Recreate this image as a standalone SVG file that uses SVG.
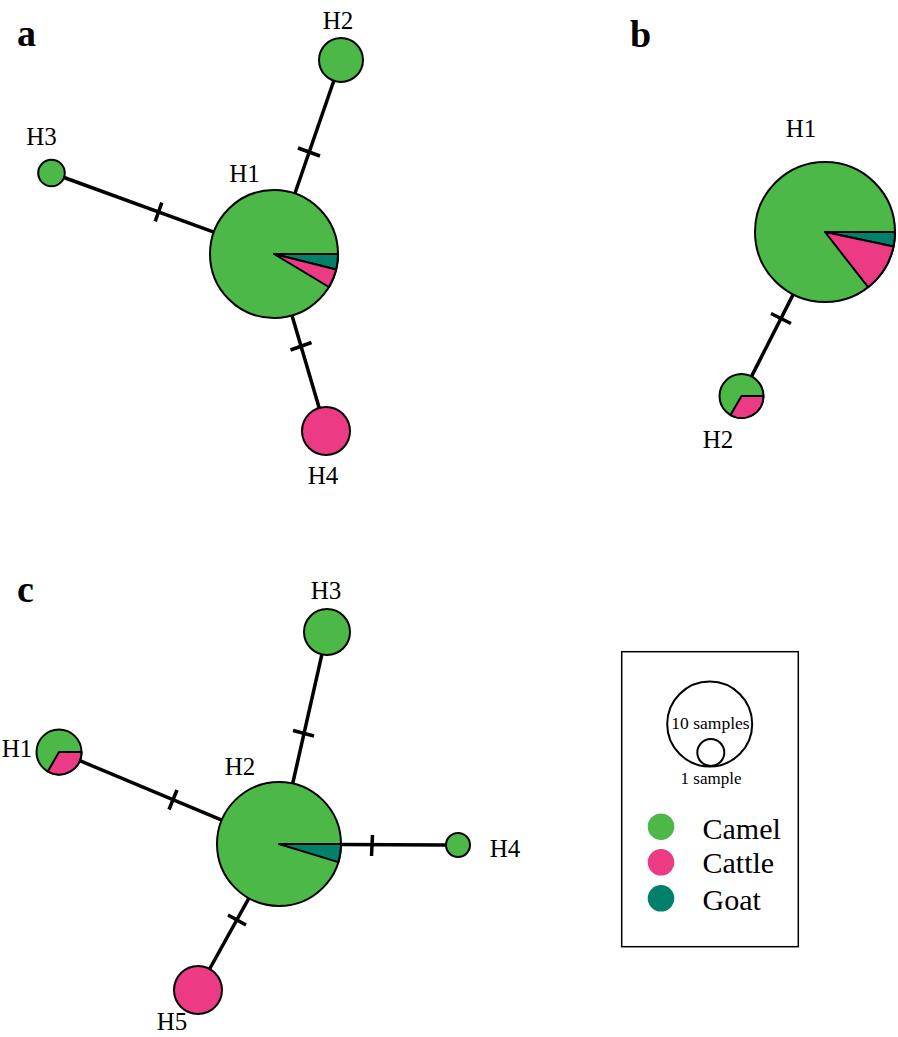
<svg xmlns="http://www.w3.org/2000/svg" width="898" height="1037" viewBox="0 0 898 1037">
<style>
.camel{fill:#4bb848}
.cattle{fill:#ec3a84}
.goat{fill:#02806a}
.node circle,.node path{stroke:#000;stroke-width:2;stroke-linejoin:round}
.edge{stroke:#000;stroke-width:3.5;stroke-linecap:butt;fill:none}
.lbl{font-family:"Liberation Serif","Times New Roman",serif;font-size:25px;fill:#000;text-anchor:middle}
.panel{font-family:"Liberation Serif","Times New Roman",serif;font-size:38px;font-weight:bold;fill:#000}
.leg{font-family:"Liberation Serif","Times New Roman",serif;fill:#000}
</style>
<rect width="898" height="1037" fill="#fff"/>

<!-- connectors -->
<g id="connectors">
  <!-- panel a -->
  <line class="edge" x1="294.9" y1="193.5" x2="333.8" y2="80.8"/>
  <line class="edge" x1="298" y1="148" x2="320" y2="156"/>
  <line class="edge" x1="213.9" y1="232.1" x2="64" y2="177.5"/>
  <line class="edge" x1="161.8" y1="202.6" x2="155.2" y2="221.4"/>
  <line class="edge" x1="292" y1="315.4" x2="319.2" y2="408"/>
  <line class="edge" x1="290.5" y1="350" x2="311.5" y2="342.5"/>
  <!-- panel b -->
  <line class="edge" x1="793.2" y1="294.4" x2="751.5" y2="376.4"/>
  <line class="edge" x1="771" y1="313.5" x2="791" y2="323.5"/>
  <!-- panel c -->
  <line class="edge" x1="292.7" y1="783.5" x2="321.9" y2="654.4"/>
  <line class="edge" x1="293" y1="730.5" x2="314" y2="736"/>
  <line class="edge" x1="221.8" y1="820.1" x2="79.8" y2="760.7"/>
  <line class="edge" x1="177" y1="790" x2="169" y2="809.5"/>
  <line class="edge" x1="341" y1="844.6" x2="446" y2="845"/>
  <line class="edge" x1="372.5" y1="835" x2="371.5" y2="856"/>
  <line class="edge" x1="248.9" y1="898.2" x2="209.6" y2="969"/>
  <line class="edge" x1="228" y1="915" x2="246" y2="925"/>
</g>

<!-- panel labels -->
<text class="panel" x="17" y="46">a</text>
<text class="panel" x="630" y="47">b</text>
<text class="panel" x="17" y="602">c</text>

<!-- panel a nodes -->
<g id="a-H1" class="node">
  <circle class="camel" cx="274" cy="254" r="64"/>
  <path class="goat" d="M274,254 L338,254 A64,64 0 0 1 336.1,269.5 Z"/>
  <path class="cattle" d="M274,254 L336.1,269.5 A64,64 0 0 1 328.9,287 Z"/>
  <text class="lbl" x="244.5" y="182">H1</text>
</g>
<g id="a-H2" class="node">
  <circle class="camel" cx="341" cy="60" r="22"/>
  <text class="lbl" x="338" y="29">H2</text>
</g>
<g id="a-H3" class="node">
  <circle class="camel" cx="51.5" cy="173" r="13.3"/>
  <text class="lbl" x="41.5" y="145">H3</text>
</g>
<g id="a-H4" class="node">
  <circle class="cattle" cx="326" cy="431" r="24"/>
  <text class="lbl" x="323" y="484">H4</text>
</g>

<!-- panel b nodes -->
<g id="b-H1" class="node">
  <circle class="camel" cx="825" cy="232" r="70"/>
  <path class="goat" d="M825,232 L895,232 A70,70 0 0 1 893.5,246.6 Z"/>
  <path class="cattle" d="M825,232 L893.5,246.6 A70,70 0 0 1 868.1,287.2 Z"/>
  <text class="lbl" x="801" y="137">H1</text>
</g>
<g id="b-H2" class="node">
  <circle class="camel" cx="741.5" cy="396" r="22"/>
  <path class="cattle" d="M741.5,396 L763.5,396 A22,22 0 0 1 730.5,415.05 Z"/>
  <text class="lbl" x="718" y="448">H2</text>
</g>

<!-- panel c nodes -->
<g id="c-H2" class="node">
  <circle class="camel" cx="279" cy="844" r="62"/>
  <path class="goat" d="M279,844 L341,844 A62,62 0 0 1 338.3,862.1 Z"/>
  <text class="lbl" x="240" y="775">H2</text>
</g>
<g id="c-H1" class="node">
  <circle class="camel" cx="59" cy="752" r="22.5"/>
  <path class="cattle" d="M59,752 L81.5,752 A22.5,22.5 0 0 1 47.75,771.5 Z"/>
  <text class="lbl" x="17" y="757">H1</text>
</g>
<g id="c-H3" class="node">
  <circle class="camel" cx="327" cy="632" r="23"/>
  <text class="lbl" x="326" y="599">H3</text>
</g>
<g id="c-H4" class="node">
  <circle class="camel" cx="458" cy="845" r="12"/>
  <text class="lbl" x="505" y="857">H4</text>
</g>
<g id="c-H5" class="node">
  <circle class="cattle" cx="198" cy="990" r="24"/>
  <text class="lbl" x="172" y="1030">H5</text>
</g>

<!-- legend -->
<g id="legend">
  <rect x="621.7" y="651.7" width="176.6" height="295" fill="#fff" stroke="#000" stroke-width="1.5"/>
  <circle cx="709.7" cy="724" r="42.5" fill="none" stroke="#000" stroke-width="2"/>
  <circle cx="710.8" cy="752.5" r="13.5" fill="none" stroke="#000" stroke-width="2"/>
  <text class="leg" x="710.5" y="729" font-size="17.5" text-anchor="middle">10 samples</text>
  <text class="leg" x="711" y="784" font-size="17" text-anchor="middle">1 sample</text>
  <circle class="camel" cx="661" cy="826.7" r="13.3"/>
  <circle class="cattle" cx="661" cy="862.3" r="13.3"/>
  <circle class="goat" cx="661" cy="898.3" r="13.3"/>
  <text class="leg" x="702.5" y="839.3" font-size="30">Camel</text>
  <text class="leg" x="702.5" y="873.3" font-size="30">Cattle</text>
  <text class="leg" x="702.5" y="910" font-size="30">Goat</text>
</g>
</svg>
